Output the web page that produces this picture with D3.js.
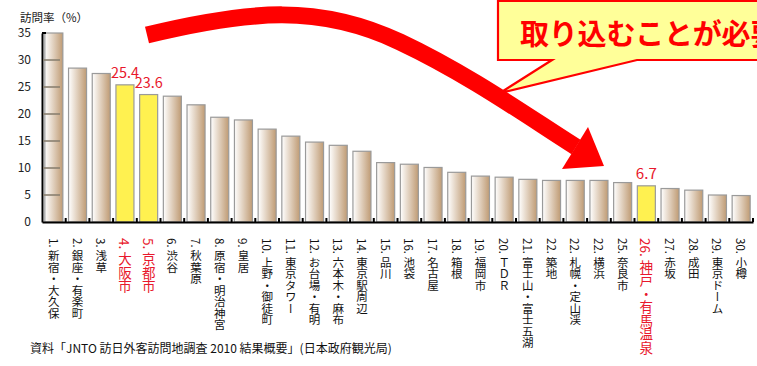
<!DOCTYPE html>
<html lang="ja">
<head>
<meta charset="UTF-8">
<title>訪問率</title>
<script src="https://d3js.org/d3.v7.min.js"></script>
<style>
  body { margin: 0; background: #fff; }
  svg { display: block; }
  text { font-family: "Noto Sans CJK JP", "DejaVu Sans", sans-serif; }
</style>
</head>
<body>
<div id="chart"></div>
<script>
const ranks = [1, 2, 3, 4, 5, 6, 7, 8, 9, 10, 11, 12, 13, 14, 15, 16, 17, 18, 19, 20, 21, 22, 22, 22, 25, 26, 27, 28, 29, 30];
const places = ["新宿・大久保", "銀座・有楽町", "浅草", "大阪市", "京都市", "渋谷", "秋葉原", "原宿・明治神宮", "皇居", "上野・御徒町",
  "東京タワー", "お台場・有明", "六本木・麻布", "東京駅周辺", "品川", "池袋", "名古屋", "箱根", "福岡市", "ＴＤＲ",
  "富士山・富士五湖", "築地", "札幌・定山渓", "横浜", "奈良市", "神戸・有馬温泉", "赤坂", "成田", "東京ドーム", "小樽"];
const rates = [35.0, 28.5, 27.5, 25.4, 23.6, 23.3, 21.7, 19.4, 18.9, 17.2, 15.9, 14.8, 14.2, 13.1, 11.0, 10.7, 10.1, 9.2, 8.5, 8.3,
  7.9, 7.7, 7.7, 7.7, 7.3, 6.7, 6.2, 5.9, 5.0, 4.9];
const highlighted = ["大阪市", "京都市", "神戸・有馬温泉"];
const yTicks = [0, 5, 10, 15, 20, 25, 30, 35];
const yTitle = "訪問率（%）";
const sourceNote = "資料「JNTO 訪日外客訪問地調査 2010 結果概要」(日本政府観光局)";
const calloutText = "取り込むことが必要";

const W = 757, H = 366;
const svg = d3.select("#chart").append("svg").attr("width", W).attr("height", H);

const defs = svg.append("defs");
const grad = defs.append("linearGradient").attr("id", "barGrad").attr("x1", "0").attr("x2", "1").attr("y1", "0").attr("y2", "0");
grad.append("stop").attr("offset", "0%").attr("stop-color", "#ffffff");
grad.append("stop").attr("offset", "100%").attr("stop-color", "#bf9b74");

const data = places.map((p, i) => ({ rank: ranks[i], name: p, value: rates[i], hot: highlighted.includes(p) }));

const x = d3.scaleBand()
  .domain(places)
  .range([42, 753])
  .paddingInner(0.24)
  .paddingOuter(0.12);

const y = d3.scaleLinear().domain([0, 35]).range([222, 33]);

// bars
svg.append("g").selectAll("rect")
  .data(data)
  .enter().append("rect")
  .attr("x", d => x(d.name))
  .attr("y", d => y(d.value))
  .attr("width", x.bandwidth())
  .attr("height", d => y(0) - y(d.value))
  .attr("fill", d => d.hot ? "#fff150" : "url(#barGrad)")
  .attr("stroke", "#9a9a9a")
  .attr("stroke-width", 1.2);

// y axis
const yAxis = svg.append("g")
  .attr("transform", "translate(42,0)")
  .call(d3.axisLeft(y).tickValues(yTicks).tickSize(0).tickPadding(11));
yAxis.select(".domain").attr("stroke", "#000").attr("stroke-width", 2);
yAxis.selectAll("text").attr("font-family", "Liberation Sans, sans-serif").attr("font-size", 12).attr("fill", "#222");

svg.append("g").selectAll("line")
  .data(yTicks.filter(t => t > 0 && t < 35))
  .enter().append("line")
  .attr("x1", 43).attr("x2", 60)
  .attr("y1", d => y(d)).attr("y2", d => y(d))
  .attr("stroke", "#8a8070").attr("stroke-width", 1.6);
svg.append("line").attr("x1", 42).attr("x2", 46).attr("y1", y(35)).attr("y2", y(35))
  .attr("stroke", "#000").attr("stroke-width", 2);

// x axis
const xAxis = svg.append("g")
  .attr("transform", `translate(0,${y(0)})`)
  .call(d3.axisBottom(x).tickSize(0).tickFormat(""));
xAxis.select(".domain").attr("stroke", "#000").attr("stroke-width", 2);

const bounds = d3.range(1, places.length + 1).map(k => x.range()[0] + k * x.step());
svg.append("g").selectAll("line")
  .data(bounds)
  .enter().append("line")
  .attr("x1", d => d).attr("x2", d => d)
  .attr("y1", y(0)).attr("y2", y(0) - 4)
  .attr("stroke", "#000").attr("stroke-width", 2);

// x labels (vertical)
svg.append("g").selectAll("text")
  .data(data)
  .enter().append("text")
  .attr("x", d => x(d.name) + x.bandwidth() / 2)
  .attr("y", 238)
  .style("writing-mode", "vertical-rl")
  .style("text-orientation", "mixed")
  .attr("font-size", d => d.hot ? 13.5 : 11.5)
  .attr("fill", d => d.hot ? "#e8182c" : "#111")
  .text(d => `${d.rank}. ${d.name}`);

// value labels
svg.append("g").selectAll("text")
  .data(data.filter(d => d.hot))
  .enter().append("text")
  .attr("x", d => x(d.name) + x.bandwidth() / 2)
  .attr("y", d => y(d.value) - 7)
  .attr("text-anchor", "middle")
  .attr("font-family", "DejaVu Sans Mono, monospace")
  .attr("font-size", 14)
  .attr("textLength", d => d.value.toFixed(1).length * 7)
  .attr("lengthAdjust", "spacingAndGlyphs")
  .attr("fill", "#e8182c")
  .text(d => d.value.toFixed(1));

// y title
svg.append("text")
  .attr("x", 20).attr("y", 22)
  .attr("font-size", 11.5)
  .attr("fill", "#222")
  .text(yTitle);

// source note
svg.append("text")
  .attr("x", 30).attr("y", 353)
  .attr("font-size", 12)
  .attr("fill", "#111")
  .text(sourceNote);

// callout (runs off the right edge as in the original slide)
svg.append("path")
  .attr("d", "M498,1 H790 V60 H637 L500,93 L552,60 H498 Z")
  .attr("fill", "#ffff99")
  .attr("stroke", "#ff0000")
  .attr("stroke-width", 2.2);
svg.append("text")
  .attr("x", Array.from(calloutText).map((c, i) => 520 + i * 28.8).join(" "))
  .attr("y", 45)
  .attr("font-size", 29)
  .attr("font-weight", "bold")
  .attr("fill", "#ff0000")
  .text(calloutText);

// big arrow
svg.append("path")
  .attr("d", "M147,35 C250,10 320,4 400,42 C470,75 530,118 576,147")
  .attr("fill", "none")
  .attr("stroke", "#ff0000")
  .attr("stroke-width", 17);
svg.append("path")
  .attr("d", "M588,127 L604,166 L562,169 Z")
  .attr("fill", "#ff0000");
</script>
</body>
</html>
